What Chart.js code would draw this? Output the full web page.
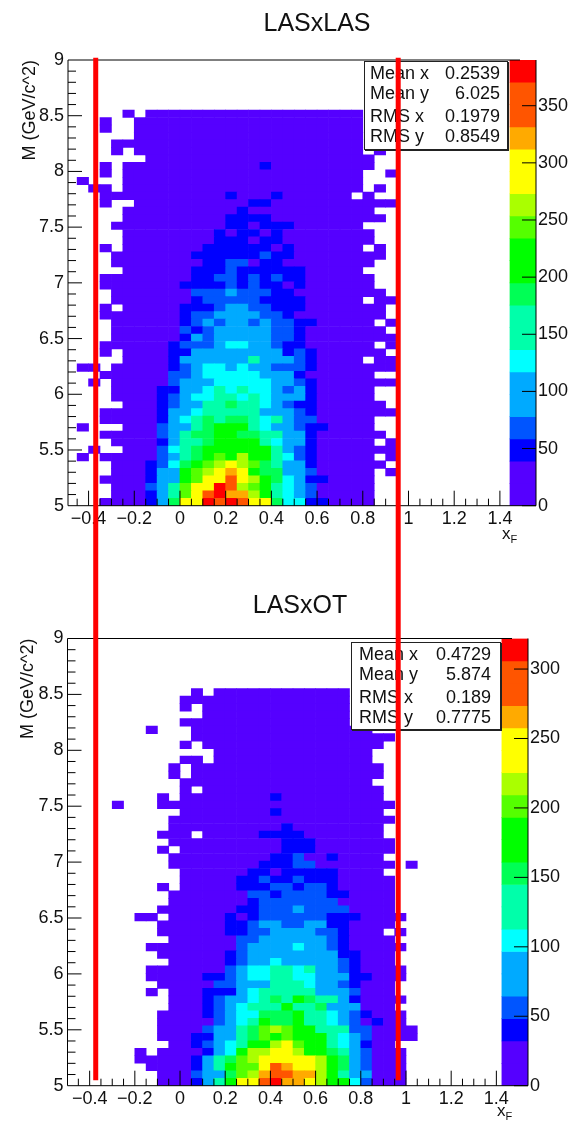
<!DOCTYPE html>
<html>
<head>
<meta charset="utf-8">
<title>LASxLAS / LASxOT</title>
<script src="https://cdn.jsdelivr.net/npm/chart.js@4/dist/chart.umd.min.js"></script>
<style>
    html, body { margin: 0; padding: 0; background: #fff; }
    body { position: relative; width: 570px; height: 1123px; overflow: hidden; font-family: "Liberation Sans", sans-serif; color: #111; }
    canvas { position: absolute; left: 0; }
    .page { position: absolute; left: 0; top: 0; width: 570px; height: 1123px; filter: blur(0.4px); }
    .pad-title { position: absolute; font-size: 25px; transform: translateX(-50%); white-space: nowrap; }
    .axis-name { position: absolute; font-size: 17px; }
    .axis-name sub { font-size: 11px; }
    .stats { position: absolute; box-sizing: border-box; background: #fff; border: 1px solid #222; box-shadow: 1px 1px 0 #222; font-size: 18px; }
    .stats div { position: absolute; display: flex; justify-content: space-between; line-height: 20px; }
</style>
</head>
<body>
<div class="page">
    <canvas id="padTop" width="570" height="560" style="top:0"></canvas>
    <canvas id="padBottom" width="570" height="563" style="top:560px"></canvas>

    <div class="pad-title" style="left:317px; top:8px">LASxLAS</div>
    <div class="pad-title" style="left:300px; top:590px">LASxOT</div>
    <div class="axis-name" style="left:502px; top:524px">x<sub>F</sub></div>
    <div class="axis-name" style="left:497px; top:1101px">x<sub>F</sub></div>

    <div class="stats" id="statsTop" style="left:364px; top:61px; width:144px; height:89px"></div>
    <div class="stats" id="statsBottom" style="left:351px; top:642px; width:150px; height:88px"></div>

    <canvas id="overlay" width="570" height="1123" style="top:0"></canvas>
</div>

<script>
// one character per cell, top row first: '.' is an empty bin, 0-d is the colour band on the z palette
const lasLasRows = [
    "....0.0000000000000000000....",
    "..0..00000000000000000000....",
    "..0..00000000000000000000....",
    ".....00000000000000000000....",
    "...0000000000000000000000....",
    "...0.00000000000000000000.0..",
    "......00000000000000000000...",
    "..0.0000000000001000000000...",
    "..0.000000000000000000000..0.",
    "0...000000000000000000000....",
    ".00.000000000000000000000.0..",
    "..0000000000010001000000.0...",
    "..0..00000000001100000000000.",
    "....0000000000100000000000...",
    "....00000000011110000000000..",
    "...0000000000110111000000....",
    "....0000000010110100000000...",
    "....0000000011101100000000...",
    "..0.000000011111101000000.0..",
    "...000000011111121100000000..",
    "...00000000112201100000000...",
    "....000000111211111100000....",
    "..000000001122121211000000...",
    "..000000011112121101000000...",
    "...000000022232221100000000..",
    "...0000000122222111100000.00.",
    "..0.00000111233221110000000..",
    "..0000000122333322100000000..",
    "...00000012323323221100000.0.",
    "...000000212333332210000000..",
    "...0000001323333322100000000.",
    "..000000122234433211000000.0.",
    "..0.00001133333333121000000..",
    "....000013333335333210000.00.",
    "00.0000012344343322210000000.",
    "..000000223444443331000000...",
    ".0.0000023334444433210000000.",
    "...00001133454544323100000...",
    "...00001234455454333100000...",
    "....00012335565543211000000..",
    "..00000133455555333210000000.",
    "..000001345656654532200000...",
    "0...0002335677754332110000...",
    "..0000023566776655331000000..",
    "...00001355677775433100000.0.",
    ".0..000245677777753210000000.",
    "0.000002356787977542100000.0.",
    "...0001246789a9865331000000..",
    "...000133789aba76633200000.0.",
    "..000013378aaca97643110000...",
    "...0002358aadc987543200000...",
    "...0001358acdbb97543200000...",
    "..0000136aadcdcaa644110000..."
];

const lasOtRows = [
    ".......0.000000000000......",
    "......000000000000000......",
    "......0.0000000000000......",
    "........0000000000000......",
    "......000000000000000......",
    "...0...0000000000000000....",
    ".......000000000000000000..",
    "......0.0000000000000000...",
    ".........00000000000000....",
    "......00.00000000000000....",
    ".....0.00000000000000000...",
    ".....0.00000000000000000...",
    "......00000000000000000....",
    "......0.0000000000000000...",
    "....0.000000001000000000...",
    "0...000000000000000000000..",
    "......000000001000000000...",
    ".....00000000000000000000..",
    ".....0000000000100000000...",
    "....000.0000011110000000...",
    ".....00000000001110000000..",
    "....0.0000000001110000000..",
    ".....0000000001120010000...",
    ".....00000000111220000000.0",
    "......000000110111110000...",
    "......0000011211211100000..",
    "....0.0000011122122100000..",
    ".....00000002212222110000..",
    ".....00000001222222200000..",
    "....000000011222322220000..",
    "..00.000001012222221110000.",
    "....000000112332233110000..",
    "....00000011223333221000.0.",
    ".....00000022333333210000..",
    "...00000000233334332100000.",
    "....000000123333333311000..",
    ".....00000123343333321000..",
    "...00000002344554533210000.",
    "...00000112344554433311000.",
    "....000002233355543321000..",
    "...0.00011134555553332000..",
    ".....000123345657655310000.",
    ".....00012345557556333000..",
    "....0000123446667554321000.",
    "....0000023457667554320100.",
    "....00002335689877555220000",
    "....00011335687877754320000",
    ".....0012345779a877543100..",
    "..0.0000134799aa9776532000.",
    "..00000135689aaaaa97632000.",
    "...0000135788acbaa97632000.",
    "....000233689bccbb97533000.",
    "....0001357aacdbba97742000."
];

const bandColors = ['#5500ff', '#0000ff', '#0055ff', '#00aaff', '#00ffff', '#00ffaa', '#00ff55',
    '#00ff00', '#55ff00', '#aaff00', '#ffff00', '#ffaa00', '#ff5500', '#ff0000'];
// the palette has 20 contours, some of them share a colour
const contourBands = [0, 0, 1, 2, 3, 3, 4, 5, 5, 6, 7, 7, 8, 9, 10, 10, 11, 12, 12, 13];

const yTickValues = [5, 5.5, 6, 6.5, 7, 7.5, 8, 8.5, 9];
const xTickValues = [-0.4, -0.2, 0, 0.2, 0.4, 0.6, 0.8, 1, 1.2, 1.4];
const zTicksTop = [0, 50, 100, 150, 200, 250, 300, 350];
const zTicksBottom = [0, 50, 100, 150, 200, 250, 300];

const statLabels = ['Mean x', 'Mean y', 'RMS x', 'RMS y'];
const statsTop = ['0.2539', '6.025', '0.1979', '0.8549'];
const statsBottom = ['0.4729', '5.874', '0.189', '0.7775'];
const statRowTops = [1, 21, 44, 64];

const redLineX = [-0.369, 0.955];
const redLineY = [9.02, -0.15];

const X_BIN = 0.05;
const Y_BIN = 0.067;
const TICK_FONT = { family: '"Liberation Sans", sans-serif', size: 18 };

function contourOf(z, zMax) {
    return Math.min(19, Math.floor(z / (zMax / 20)));
}

// band character -> bin content, middle of the first contour with that colour
function cellValue(ch, zMax) {
    const band = parseInt(ch, 16);
    return (contourBands.indexOf(band) + 0.5) * zMax / 20;
}

function cellsFrom(rows, firstBin, zMax) {
    const cells = [];
    const colors = [];
    rows.forEach((row, r) => {
        const yLow = 5 + (rows.length - 1 - r) * Y_BIN;
        [...row].forEach((ch, i) => {
            if (ch === '.') return;
            const z = cellValue(ch, zMax);
            cells.push({ x: (firstBin + i + 0.5) * X_BIN, y: [yLow, yLow + Y_BIN] });
            colors.push(bandColors[contourBands[contourOf(z, zMax)]]);
        });
    });
    return { cells, colors };
}

// ROOT style frame: ticks point inwards and sit on top of the bins
const rootFrame = {
    id: 'rootFrame',
    afterDatasetsDraw(chart, args, opts) {
        const { ctx, chartArea, scales } = chart;
        const { left, right, top, bottom } = chartArea;
        ctx.save();
        ctx.strokeStyle = '#000';
        ctx.lineWidth = 1;
        const line = (x1, y1, x2, y2) => {
            ctx.beginPath();
            ctx.moveTo(x1, y1);
            ctx.lineTo(x2, y2);
            ctx.stroke();
        };
        line(left, top, opts.topEnd, top);
        line(left, top, left, bottom);
        line(left, bottom, right, bottom);
        line(right, top, right, bottom);

        for (let n = -9; n <= 28; n++) {
            const px = scales.x.getPixelForValue(n * X_BIN);
            line(px, bottom, px, bottom - (n % 4 === 0 ? 15 : 7));
        }
        for (let n = 1; n < 40; n++) {
            const py = scales.y.getPixelForValue(5 + n * 0.1);
            line(left, py, left + (n % 5 === 0 ? 14 : 8), py);
        }
        scales.z.ticks.forEach(t => {
            const py = scales.z.getPixelForValue(t.value);
            line(right - 14, py, right, py);
        });
        ctx.restore();
    }
};

function buildPad(id, rows, firstBin, pad) {
    const { cells, colors } = cellsFrom(rows, firstBin, pad.zMax);
    const levelW = pad.zMax / 20;
    const paletteBars = contourBands.map((b, l) => ({ x: pad.paletteX, y: [l * levelW, (l + 1) * levelW] }));

    return new Chart(document.getElementById(id), {
        type: 'bar',
        data: {
            datasets: [{
                data: cells,
                backgroundColor: colors,
                yAxisID: 'y',
                barPercentage: 1,
                categoryPercentage: 1,
                grouped: false
            }, {
                data: paletteBars,
                backgroundColor: contourBands.map(b => bandColors[b]),
                yAxisID: 'z',
                barThickness: 26,
                grouped: false
            }]
        },
        options: {
            responsive: false,
            animation: false,
            layout: { padding: { top: pad.top, left: 0, right: 0, bottom: 0 } },
            plugins: { legend: { display: false }, title: { display: false }, tooltip: { enabled: false }, rootFrame: { topEnd: pad.topEnd } },
            scales: {
                x: {
                    type: 'linear',
                    offset: false,
                    min: pad.xMin,
                    max: pad.xMax,
                    grid: { display: false, drawTicks: false },
                    border: { display: false },
                    afterBuildTicks: s => { s.ticks = xTickValues.map(v => ({ value: v })); },
                    afterFit: s => { s.height = pad.xAxisHeight; },
                    ticks: {
                        padding: 3,
                        autoSkip: false,
                        maxRotation: 0,
                        color: '#111',
                        font: TICK_FONT,
                        callback: v => String(v).replace('-', '\u2212')
                    }
                },
                y: {
                    type: 'linear',
                    position: 'left',
                    min: 5,
                    max: 9,
                    grid: { display: false, drawTicks: false },
                    border: { display: false },
                    afterBuildTicks: s => { s.ticks = yTickValues.map(v => ({ value: v })); },
                    afterFit: s => { s.width = pad.left; },
                    ticks: { padding: 4, color: '#111', font: TICK_FONT, callback: v => String(v) },
                    title: {
                        display: true,
                        text: 'M (GeV/c^2)',
                        align: 'end',
                        color: '#111',
                        padding: { top: pad.titlePad, bottom: 0 },
                        font: { family: TICK_FONT.family, size: 18 }
                    }
                },
                z: {
                    type: 'linear',
                    position: 'right',
                    min: 0,
                    max: pad.zMax,
                    grid: { display: false, drawTicks: false },
                    border: { display: false },
                    afterBuildTicks: s => { s.ticks = pad.zTicks.map(v => ({ value: v })); },
                    afterFit: s => { s.width = 570 - pad.right; },
                    ticks: { padding: 2, color: '#111', font: TICK_FONT, callback: v => String(v) }
                }
            }
        },
        plugins: [rootFrame]
    });
}

buildPad('padTop', lasLasRows, -9, {
    zMax: 390, zTicks: zTicksTop, paletteX: 1.501,
    xMin: -0.49, xMax: 1.558,
    top: 60, left: 68, right: 536, topEnd: 520,
    xAxisHeight: 54.3, titlePad: 19
});

buildPad('padBottom', lasOtRows, -6, {
    zMax: 322, zTicks: zTicksBottom, paletteX: 1.482,
    xMin: -0.498, xMax: 1.54,
    top: 78.5, left: 67.5, right: 528, topEnd: 512,
    xAxisHeight: 37.3, titlePad: 17
});

// the two red lines run over both pads, so they get a chart of their own on top
new Chart(document.getElementById('overlay'), {
    type: 'scatter',
    data: {
        datasets: redLineX.map(x => ({
            data: redLineY.map(y => ({ x, y })),
            showLine: true,
            borderColor: '#ff0000',
            borderWidth: 5,
            pointRadius: 0
        }))
    },
    options: {
        responsive: false,
        animation: false,
        layout: { padding: 0 },
        plugins: { legend: { display: false }, tooltip: { enabled: false } },
        scales: {
            x: { display: false, min: -0.788, max: 1.707 },
            y: { display: false, min: -0.534, max: 9.538 }
        }
    }
});

function fillStats(id, values, leftGap, rightGap) {
    document.getElementById(id).innerHTML = statLabels.map((label, i) =>
        `<div style="top:${statRowTops[i]}px; left:${leftGap}px; right:${rightGap}px"><span>${label}</span><span>${values[i]}</span></div>`).join('');
}
fillStats('statsTop', statsTop, 5, 7);
fillStats('statsBottom', statsBottom, 7, 9);
</script>
</body>
</html>
